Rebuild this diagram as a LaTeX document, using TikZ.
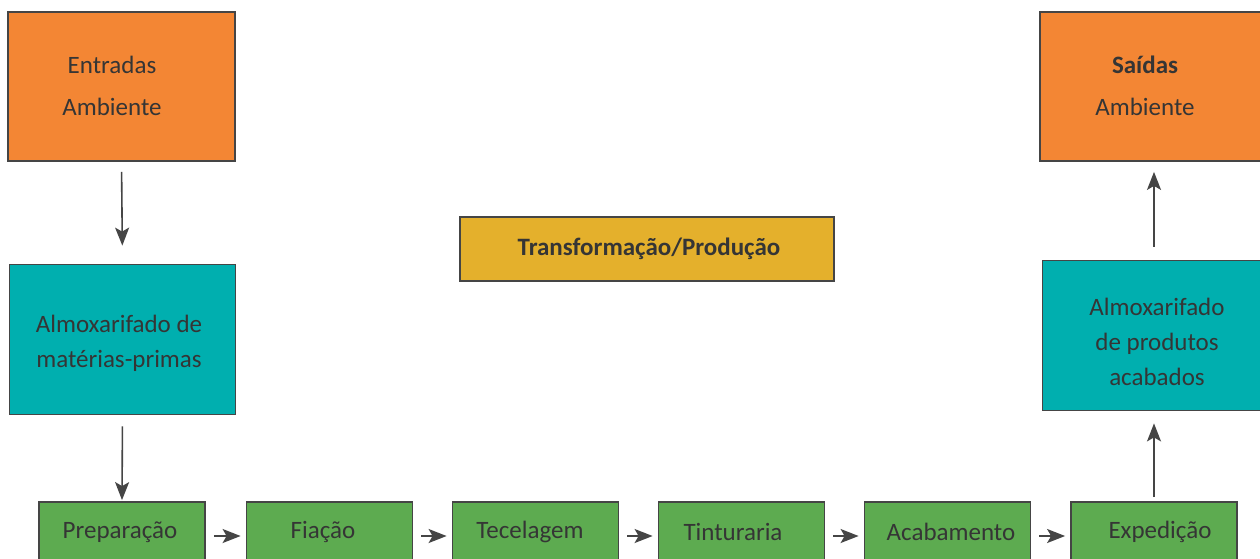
\documentclass[tikz,border=0pt]{standalone}
\usepackage{fontspec}
\setmainfont{Carlito}
\usetikzlibrary{arrows.meta}
\definecolor{orangeb}{HTML}{F38634}
\definecolor{tealb}{HTML}{00AFAF}
\definecolor{greenb}{HTML}{5DAB50}
\definecolor{goldb}{HTML}{E4B02C}
\definecolor{edgeb}{HTML}{454545}
\definecolor{txtb}{HTML}{353535}
\tikzset{
  boxb/.style={draw=edgeb, line width=1.8pt, inner sep=0pt},
  orangebox/.style={boxb, fill=orangeb, minimum width=227pt, minimum height=149pt},
  tealbox/.style={boxb, fill=tealb, minimum width=226pt, minimum height=150pt},
  stepbox/.style={boxb, fill=greenb, minimum width=166pt, minimum height=60pt},
  goldbox/.style={boxb, fill=goldb, minimum width=374pt, minimum height=64pt},
  lbl/.style={text=txtb, font=\fontsize{25}{35}\selectfont, align=center, inner sep=0pt},
  arr/.style={draw=edgeb, line width=1.6pt, -{Stealth[length=18pt,width=14pt,inset=4pt]}},
}
\begin{document}
\begin{tikzpicture}[x=1pt,y=-1pt]
\useasboundingbox (0,0) rectangle (1260,558);
\clip (0,0) rectangle (1260,558);
\fill[white] (0,0) rectangle (1260,558);
% top boxes
\node[orangebox] (ent) at (121.5,86.5) {};
\node[lbl, font=\fontsize{25}{42}\selectfont] (entt) at (112,86) {Entradas\\Ambiente};
\node[orangebox] (sai) at (1153.5,86.5) {};
\node[lbl, font=\fontsize{25}{42}\selectfont] (sait) at (1145,86) {\textbf{Saídas}\\Ambiente};
% teal
\node[tealbox] (amp) at (122.5,339.5) {};
\node[lbl] (ampt) at (119,343) {Almoxarifado de\\matérias-primas};
\node[tealbox] (apa) at (1155.5,335.5) {};
\node[lbl] (apat) at (1157,342) {Almoxarifado\\de produtos\\acabados};
% gold
\node[goldbox] (tra) at (647,249) {};
\node[lbl] (trat) at (649,249) {\textbf{Transformação/Produção}};
% green steps
\node[stepbox] (s1) at (122,532) {};
\node[stepbox] (s2) at (329.5,532) {};
\node[stepbox] (s3) at (535.5,532) {};
\node[stepbox] (s4) at (741.5,532) {};
\node[stepbox] (s5) at (947.5,532) {};
\node[stepbox] (s6) at (1154,532) {};
\node[lbl] at (120,532) {Preparação};
\node[lbl] at (323,532) {Fiação};
\node[lbl] at (530,532) {Tecelagem};
\node[lbl] at (733,532) {Tinturaria};
\node[lbl] at (951,532) {Acabamento};
\node[lbl] at (1160,532) {Expedição};
% arrows
\draw[arr, shorten <=10pt, shorten >=18pt] (ent.south) -- (amp.north);
\draw[arr, shorten <=11pt, shorten >=1pt] (amp.south) -- (s1.north);
\draw[arr, shorten <=4pt, shorten >=12pt] (s6.north) -- (apa.south -| s6.north);
\draw[arr, shorten <=13pt, shorten >=10pt] (apa.north -| s6.north) -- (sai.south -| s6.north);
\foreach \a/\b in {s1/s2,s2/s3,s3/s4,s4/s5,s5/s6}{
  \draw[arr, shorten <=8pt, shorten >=5pt] ([yshift=-4pt]\a.east) -- ([yshift=-4pt]\b.west);
}
\end{tikzpicture}
\end{document}
